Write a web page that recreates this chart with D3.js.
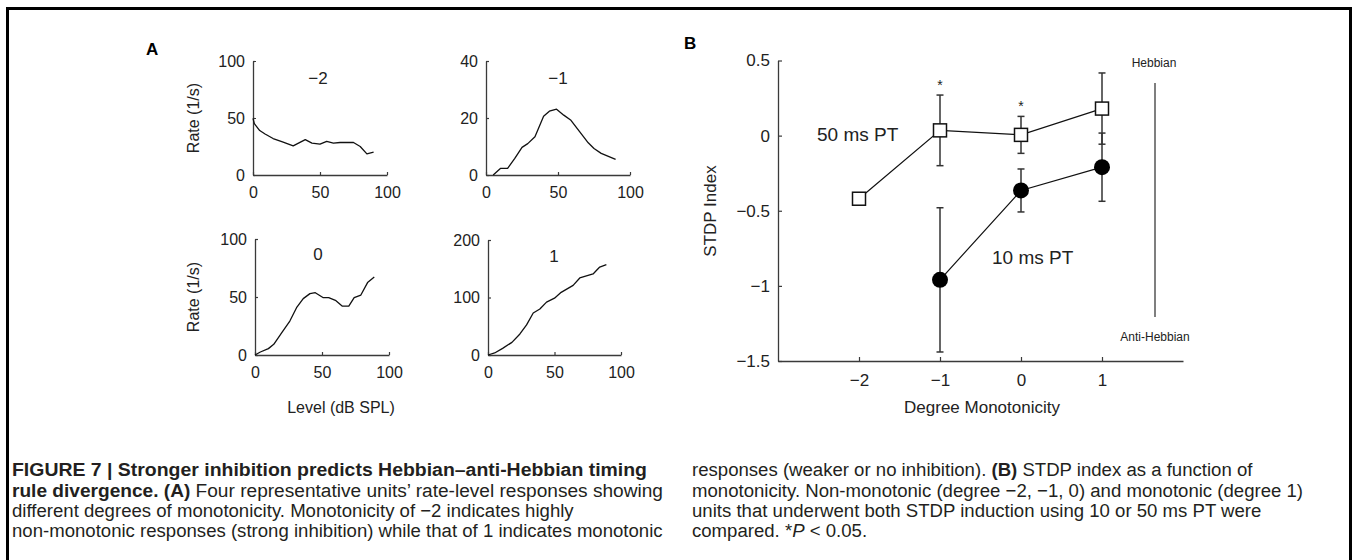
<!DOCTYPE html>
<html>
<head>
<meta charset="utf-8">
<script src="https://cdn.jsdelivr.net/npm/d3@7"></script>
<style>
  html, body { margin: 0; padding: 0; background: #fff; }
  svg { display: block; font-family: "Liberation Sans", Arial, Helvetica, sans-serif; }
</style>
</head>
<body>
<svg id="chart" width="1358" height="560"></svg>
<script>
// ---------------- DATA ----------------
// Panel A: rate-level functions (level dB SPL, rate 1/s)
const levelsNeg2 = [0, 1, 5, 9, 15, 22, 30, 39, 44, 50, 55, 60, 65, 75, 80, 85, 90];
const ratesNeg2  = [49.6, 45, 39, 36, 32, 29, 25.5, 31, 28, 27, 29.5, 28, 28.5, 28.5, 25, 18.5, 20];

const levelsNeg1 = [5, 10, 15, 20, 25, 29, 34, 40, 44, 49, 54, 59, 65, 71, 75, 80, 90];
const ratesNeg1  = [0, 2.3, 2.3, 5.8, 9.7, 11, 13.4, 20.6, 22.4, 23.1, 21, 19.2, 15.2, 11.3, 9.3, 7.6, 5.5];

const levelsZero = [0, 4, 10, 14, 20, 26, 31, 36, 41, 45, 51, 55, 60, 65, 70, 74, 79, 84, 89];
const ratesZero  = [0, 2.6, 5.5, 9.2, 19.3, 29.3, 40.8, 48.6, 52.9, 53.7, 49.4, 49.4, 47.1, 42.2, 42.2, 49.4, 51.7, 62.4, 67.2];

const levelsOne  = [0, 5, 11, 18, 24, 29, 34, 39, 44, 50, 55, 64, 69, 79, 84, 89];
const ratesOne   = [0, 3.5, 11.6, 22, 36.6, 52.3, 73, 80, 92, 98.8, 109, 121, 134, 141, 153, 157];

const panelATitles = ["\u22122", "\u22121", "0", "1"];
const panelAYMax   = [100, 40, 100, 200];
const panelAYTicks = [[0, 50, 100], [0, 20, 40], [0, 50, 100], [0, 100, 200]];
const panelAXTicks = [0, 50, 100];

// Panel B: STDP index vs degree of monotonicity
const degreeTicks   = [-2, -1, 0, 1];
const degreeLabels  = ["\u22122", "\u22121", "0", "1"];
const stdpTicks     = [0.5, 0, -0.5, -1, -1.5];
const stdpLabels    = ["0.5", "0", "\u22120.5", "\u22121", "\u22121.5"];

const pt50Degrees = [-2, -1, 0, 1];
const pt50Index   = [-0.42, 0.035, 0.005, 0.18];
const pt50Err     = [0, 0.235, 0.123, 0.237];

const pt10Degrees = [-1, 0, 1];
const pt10Index   = [-0.96, -0.365, -0.21];
const pt10Err     = [0.48, 0.143, 0.227];

const sigDegrees  = [-1, 0];

// Caption lines
const captionLeft = [
  [{t: "FIGURE 7 | Stronger inhibition predicts Hebbian\u2013anti-Hebbian timing", b: true}],
  [{t: "rule divergence. (A)", b: true}, {t: " Four representative units\u2019 rate-level responses showing"}],
  [{t: "different degrees of monotonicity. Monotonicity of \u22122 indicates highly"}],
  [{t: "non-monotonic responses (strong inhibition) while that of 1 indicates monotonic"}]
];
const captionRight = [
  [{t: "responses (weaker or no inhibition). "}, {t: "(B)", b: true}, {t: " STDP index as a function of"}],
  [{t: "monotonicity. Non-monotonic (degree \u22122, \u22121, 0) and monotonic (degree 1)"}],
  [{t: "units that underwent both STDP induction using 10 or 50 ms PT were"}],
  [{t: "compared. *"}, {t: "P", i: true}, {t: " < 0.05."}]
];

// ---------------- DRAWING ----------------
const svg = d3.select("#chart");
const axisColor = "#3a3a3a";
const textColor = "#222";

// figure frame
svg.append("rect")
  .attr("x", 7.5).attr("y", 8.5).attr("width", 1343).attr("height", 620)
  .attr("fill", "none").attr("stroke", "#000").attr("stroke-width", 3);

// ----- Panel A -----
const panelAData = [
  {lv: levelsNeg2, r: ratesNeg2},
  {lv: levelsNeg1, r: ratesNeg1},
  {lv: levelsZero, r: ratesZero},
  {lv: levelsOne,  r: ratesOne}
];
const panelABoxes = [
  {x0: 253, x1: 387, y0: 175, y1: 61, tx: 318, ty: 78},
  {x0: 486, x1: 630, y0: 175, y1: 61, tx: 558, ty: 78},
  {x0: 255, x1: 389, y0: 355, y1: 239, tx: 318, ty: 254},
  {x0: 488, x1: 621, y0: 355, y1: 240, tx: 554, ty: 256}
];

panelAData.forEach((d, i) => {
  const b = panelABoxes[i];
  const x = d3.scaleLinear().domain([0, 100]).range([b.x0, b.x1]);
  const y = d3.scaleLinear().domain([0, panelAYMax[i]]).range([b.y0, b.y1]);
  const g = svg.append("g");

  const xAxis = d3.axisBottom(x).tickValues(panelAXTicks).tickSizeInner(-3).tickSizeOuter(0).tickPadding(12);
  const gx = g.append("g").attr("transform", `translate(0,${b.y0})`).call(xAxis);
  const yAxis = d3.axisLeft(y).tickValues(panelAYTicks[i]).tickSizeInner(-3).tickSizeOuter(0).tickPadding(8);
  const gy = g.append("g").attr("transform", `translate(${b.x0},0)`).call(yAxis);
  [gx, gy].forEach(ax => {
    ax.select(".domain").attr("stroke", axisColor).attr("stroke-width", 1.3);
    ax.selectAll(".tick line").attr("stroke", axisColor).attr("stroke-width", 1.2);
    ax.selectAll(".tick text").attr("fill", textColor).attr("font-size", 16)
      .attr("font-family", "Liberation Sans, Arial, sans-serif");
  });

  const line = d3.line().x((v, k) => x(d.lv[k])).y(v => y(v));
  g.append("path").datum(d.r).attr("d", line)
    .attr("fill", "none").attr("stroke", "#111").attr("stroke-width", 1.3)
    .attr("stroke-linejoin", "round");

  g.append("text").attr("x", b.tx).attr("y", b.ty).attr("dy", "0.35em")
    .attr("text-anchor", "middle").attr("font-size", 17).attr("fill", textColor)
    .text(panelATitles[i]);
});

// y-labels for panel A
[[193, 118], [193, 297]].forEach(([cx, cy]) => {
  svg.append("text").attr("transform", `translate(${cx},${cy}) rotate(-90)`)
    .attr("text-anchor", "middle").attr("dy", "0.35em")
    .attr("font-size", 16).attr("fill", textColor).text("Rate (1/s)");
});
svg.append("text").attr("x", 341).attr("y", 407).attr("dy", "0.35em")
  .attr("text-anchor", "middle").attr("font-size", 16).attr("fill", textColor)
  .text("Level (dB SPL)");

svg.append("text").attr("x", 146).attr("y", 55).attr("font-size", 17)
  .attr("font-weight", "bold").attr("fill", "#000").text("A");

// ----- Panel B -----
const xB = d3.scaleLinear().domain([-3, 2]).range([778, 1183]);
const yB = d3.scaleLinear().domain([-1.5, 0.5]).range([361, 60.5]);
const gB = svg.append("g");

const xAxisB = d3.axisBottom(xB).tickValues(degreeTicks).tickFormat((v, k) => degreeLabels[k])
  .tickSizeInner(-4).tickSizeOuter(0).tickPadding(13);
const yAxisB = d3.axisLeft(yB).tickValues(stdpTicks).tickFormat((v, k) => stdpLabels[k])
  .tickSizeInner(-4).tickSizeOuter(0).tickPadding(8);
const gxB = gB.append("g").attr("transform", `translate(0,${yB(-1.5)})`).call(xAxisB);
const gyB = gB.append("g").attr("transform", `translate(${xB(-3)},0)`).call(yAxisB);
[gxB, gyB].forEach(ax => {
  ax.select(".domain").attr("stroke", axisColor).attr("stroke-width", 1.3);
  ax.selectAll(".tick line").attr("stroke", axisColor).attr("stroke-width", 1.2);
  ax.selectAll(".tick text").attr("fill", textColor).attr("font-size", 17)
    .attr("font-family", "Liberation Sans, Arial, sans-serif");
});

// connecting lines
const lineB = d3.line().x(d => xB(d[0])).y(d => yB(d[1]));
gB.append("path").datum(pt50Degrees.map((v, k) => [v, pt50Index[k]])).attr("d", lineB)
  .attr("fill", "none").attr("stroke", "#111").attr("stroke-width", 1.2);
gB.append("path").datum(pt10Degrees.map((v, k) => [v, pt10Index[k]])).attr("d", lineB)
  .attr("fill", "none").attr("stroke", "#111").attr("stroke-width", 1.2);

// error bars
function errorBars(degs, vals, errs) {
  degs.forEach((dv, k) => {
    if (!errs[k]) return;
    const cx = xB(dv), yt = yB(vals[k] + errs[k]), yb = yB(vals[k] - errs[k]);
    gB.append("line").attr("x1", cx).attr("x2", cx).attr("y1", yt).attr("y2", yb)
      .attr("stroke", "#333").attr("stroke-width", 1.5);
    [yt, yb].forEach(yy => gB.append("line").attr("x1", cx - 3.5).attr("x2", cx + 3.5)
      .attr("y1", yy).attr("y2", yy).attr("stroke", "#333").attr("stroke-width", 1.5));
  });
}
errorBars(pt50Degrees, pt50Index, pt50Err);
errorBars(pt10Degrees, pt10Index, pt10Err);

// markers
gB.selectAll("rect.sq").data(pt50Degrees).join("rect").attr("class", "sq")
  .attr("x", d => xB(d) - 6.5).attr("y", (d, k) => yB(pt50Index[k]) - 6.5)
  .attr("width", 13).attr("height", 13)
  .attr("fill", "#fff").attr("stroke", "#111").attr("stroke-width", 1.5);
gB.selectAll("circle.dot").data(pt10Degrees).join("circle").attr("class", "dot")
  .attr("cx", d => xB(d)).attr("cy", (d, k) => yB(pt10Index[k])).attr("r", 8)
  .attr("fill", "#000");

// significance asterisks
sigDegrees.forEach(dv => {
  const k = pt50Degrees.indexOf(dv);
  gB.append("text").attr("x", xB(dv)).attr("y", yB(pt50Index[k] + pt50Err[k]) - 5)
    .attr("text-anchor", "middle").attr("font-size", 14).attr("fill", textColor).text("*");
});

// series labels
gB.append("text").attr("x", 817).attr("y", 134).attr("dy", "0.35em")
  .attr("font-size", 19).attr("fill", textColor).text("50 ms PT");
gB.append("text").attr("x", 992).attr("y", 257).attr("dy", "0.35em")
  .attr("font-size", 19).attr("fill", textColor).text("10 ms PT");

// Hebbian / Anti-Hebbian bar
gB.append("line").attr("x1", 1155).attr("x2", 1155).attr("y1", 83).attr("y2", 317)
  .attr("stroke", "#555").attr("stroke-width", 1.5);
gB.append("text").attr("x", 1154).attr("y", 63).attr("dy", "0.35em").attr("text-anchor", "middle")
  .attr("font-size", 12).attr("fill", textColor).text("Hebbian");
gB.append("text").attr("x", 1155).attr("y", 337).attr("dy", "0.35em").attr("text-anchor", "middle")
  .attr("font-size", 12).attr("fill", textColor).text("Anti-Hebbian");

// axis labels
svg.append("text").attr("transform", "translate(710,211) rotate(-90)")
  .attr("text-anchor", "middle").attr("dy", "0.35em")
  .attr("font-size", 17).attr("fill", textColor).text("STDP Index");
svg.append("text").attr("x", 982).attr("y", 407).attr("dy", "0.35em")
  .attr("text-anchor", "middle").attr("font-size", 17).attr("fill", textColor)
  .text("Degree Monotonicity");
svg.append("text").attr("x", 684).attr("y", 49).attr("font-size", 17)
  .attr("font-weight", "bold").attr("fill", "#000").text("B");

// ----- Caption -----
const capBaselines = [476, 497, 517, 537];
function drawCaption(lines, x0, fs, widths) {
  return lines.map((parts, li) => {
    const t = svg.append("text").attr("x", x0).attr("y", capBaselines[li])
      .attr("font-size", fs).attr("fill", "#231f20");
    if (widths && widths[li]) t.attr("textLength", widths[li]).attr("lengthAdjust", "spacingAndGlyphs");
    parts.forEach(p => {
      t.append("tspan").attr("font-weight", p.b ? "bold" : "normal")
        .attr("font-style", p.i ? "italic" : "normal").text(p.t);
    });
    return t;
  });
}
// one uniform caption size, chosen so the longest left line spans the column
const probe = drawCaption([captionLeft[3]], 12, 15)[0];
const capFs = 15 * 651 / probe.node().getComputedTextLength();
probe.remove();
// the reference's bold face runs slightly wider, so the two bold-led lines are widened a bit
drawCaption(captionLeft, 12, capFs, [635, 651, 0, 0]);
drawCaption(captionRight, 692, capFs);
</script>
</body>
</html>
